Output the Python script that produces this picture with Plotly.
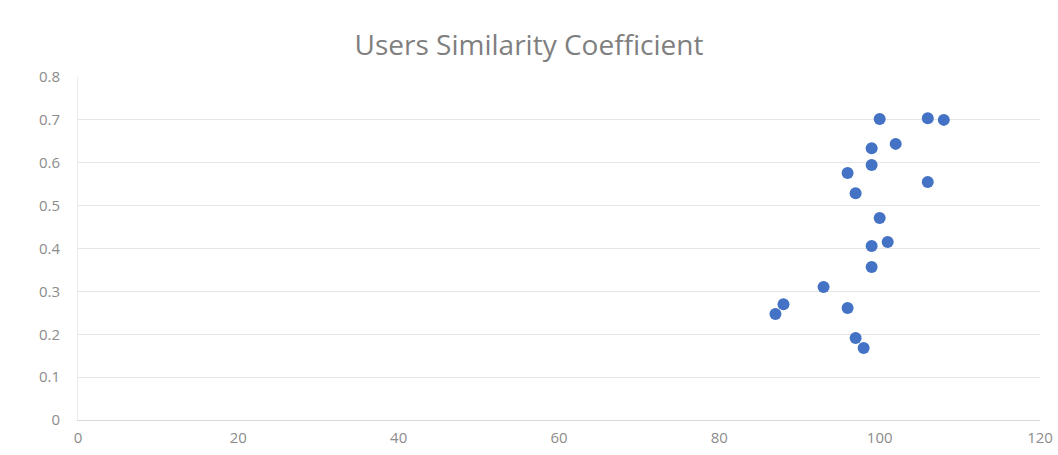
import plotly.graph_objects as go

activity = [100, 106, 108, 102, 99, 99, 96, 106, 97, 100, 101, 99, 99, 93, 88, 87, 96, 97, 98]
similarity = [0.702, 0.704, 0.700, 0.644, 0.634, 0.595, 0.576, 0.555, 0.529, 0.471,
              0.415, 0.406, 0.357, 0.310, 0.270, 0.247, 0.261, 0.191, 0.168]

x_ticks = [0, 20, 40, 60, 80, 100, 120]
y_ticks = [0, 0.1, 0.2, 0.3, 0.4, 0.5, 0.6, 0.7, 0.8]
y_labels = ["0", "0.1", "0.2", "0.3", "0.4", "0.5", "0.6", "0.7", "0.8"]

fig = go.Figure()
fig.add_trace(go.Scatter(
    x=activity, y=similarity, mode="markers",
    marker=dict(size=12, color="#4472C4", symbol="circle"),
    showlegend=False,
))

fig.update_layout(
    width=1058, height=455,
    margin=dict(l=78, r=18, t=77, b=35, autoexpand=False),
    paper_bgcolor="white", plot_bgcolor="white",
    title=dict(text="Users Similarity Coefficient", x=0.5, xanchor="center",
               y=0.9, yanchor="middle",
               font=dict(family="Open Sans, sans-serif", size=28, color="#7f7f7f")),
    font=dict(family="Open Sans, sans-serif", size=15, color="#8c8c8c"),
    xaxis=dict(range=[0, 120], tickvals=x_ticks, showgrid=False, zeroline=False,
               showline=True, linecolor="#d9d9d9", ticks="", ticklen=0, automargin=False,
               ticklabelstandoff=4),
    yaxis=dict(range=[0, 0.8], tickvals=y_ticks, ticktext=y_labels, showgrid=True,
               gridcolor="#e6e6e6", zeroline=False, showline=True, linecolor="#ececec",
               ticks="", ticklabelstandoff=14, automargin=False),
)

fig.write_html("out.html")
